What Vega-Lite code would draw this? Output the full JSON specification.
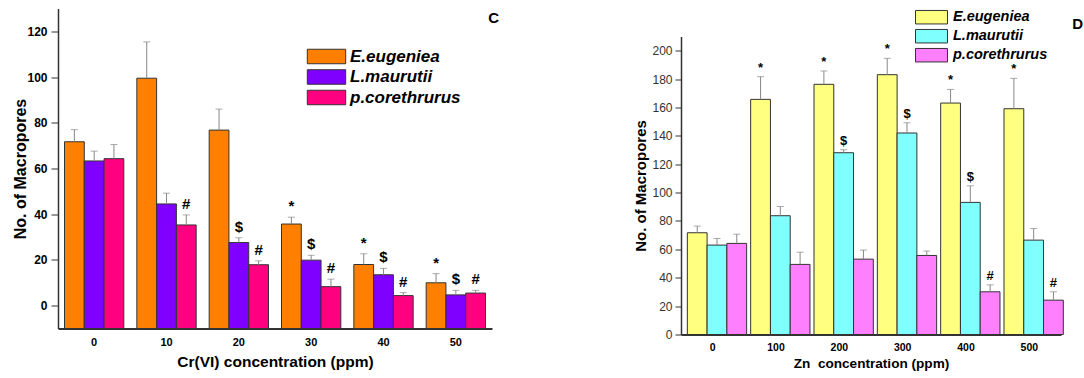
{
  "$schema": "https://vega.github.io/schema/vega-lite/v6.json",
  "padding": {"left": 12, "top": 8.5, "right": 0, "bottom": 0},
  "background": "white",
  "config": {
    "view": {"stroke": null},
    "font": "Liberation Sans",
    "axis": {"grid": false, "domainColor": "#333", "tickColor": "#333", "labelColor": "#000", "titleColor": "#000"}
  },
  "resolve": {"scale": {"fill": "independent", "y": "independent", "x": "independent"}, "legend": {"fill": "independent"}},
  "datasets": {
    "c": [
      {"conc": "0", "species": "E.eugeniea", "value": 71.7, "upper": 77, "sig": ""},
      {"conc": "0", "species": "L.maurutii", "value": 63.3, "upper": 67.6, "sig": ""},
      {"conc": "0", "species": "p.corethrurus", "value": 64.3, "upper": 70.5, "sig": ""},
      {"conc": "10", "species": "E.eugeniea", "value": 99.5, "upper": 115.4, "sig": ""},
      {"conc": "10", "species": "L.maurutii", "value": 44.5, "upper": 49.2, "sig": ""},
      {"conc": "10", "species": "p.corethrurus", "value": 35.3, "upper": 39.7, "sig": "#"},
      {"conc": "20", "species": "E.eugeniea", "value": 76.8, "upper": 86, "sig": ""},
      {"conc": "20", "species": "L.maurutii", "value": 27.6, "upper": 29.7, "sig": "$"},
      {"conc": "20", "species": "p.corethrurus", "value": 17.9, "upper": 19.6, "sig": "#"},
      {"conc": "30", "species": "E.eugeniea", "value": 35.7, "upper": 38.7, "sig": "*"},
      {"conc": "30", "species": "L.maurutii", "value": 19.9, "upper": 22.1, "sig": "$"},
      {"conc": "30", "species": "p.corethrurus", "value": 8.3, "upper": 11.6, "sig": "#"},
      {"conc": "40", "species": "E.eugeniea", "value": 18, "upper": 22.7, "sig": "*"},
      {"conc": "40", "species": "L.maurutii", "value": 13.5, "upper": 16.3, "sig": "$"},
      {"conc": "40", "species": "p.corethrurus", "value": 4.4, "upper": 5.7, "sig": "#"},
      {"conc": "50", "species": "E.eugeniea", "value": 10, "upper": 14, "sig": "*"},
      {"conc": "50", "species": "L.maurutii", "value": 4.7, "upper": 6.7, "sig": "$"},
      {"conc": "50", "species": "p.corethrurus", "value": 5.5, "upper": 6.7, "sig": "#"}
    ],
    "d": [
      {"conc": "0", "species": "E.eugeniea", "value": 71.7, "upper": 76.4, "sig": ""},
      {"conc": "0", "species": "L.maurutii", "value": 63, "upper": 67.7, "sig": ""},
      {"conc": "0", "species": "p.corethrurus", "value": 64.2, "upper": 70.7, "sig": ""},
      {"conc": "100", "species": "E.eugeniea", "value": 165.7, "upper": 181.7, "sig": "*"},
      {"conc": "100", "species": "L.maurutii", "value": 83.7, "upper": 90.2, "sig": ""},
      {"conc": "100", "species": "p.corethrurus", "value": 49.4, "upper": 58, "sig": ""},
      {"conc": "200", "species": "E.eugeniea", "value": 176.3, "upper": 185.7, "sig": "*"},
      {"conc": "200", "species": "L.maurutii", "value": 128.1, "upper": 130.2, "sig": "$"},
      {"conc": "200", "species": "p.corethrurus", "value": 53.1, "upper": 59.5, "sig": ""},
      {"conc": "300", "species": "E.eugeniea", "value": 183.1, "upper": 194.6, "sig": "*"},
      {"conc": "300", "species": "L.maurutii", "value": 142, "upper": 149.2, "sig": "$"},
      {"conc": "300", "species": "p.corethrurus", "value": 55.7, "upper": 58.8, "sig": ""},
      {"conc": "400", "species": "E.eugeniea", "value": 163.1, "upper": 172.7, "sig": "*"},
      {"conc": "400", "species": "L.maurutii", "value": 93.1, "upper": 104.8, "sig": "$"},
      {"conc": "400", "species": "p.corethrurus", "value": 30.1, "upper": 35, "sig": "#"},
      {"conc": "500", "species": "E.eugeniea", "value": 159.1, "upper": 180.5, "sig": "*"},
      {"conc": "500", "species": "L.maurutii", "value": 66.5, "upper": 74.7, "sig": ""},
      {"conc": "500", "species": "p.corethrurus", "value": 24.2, "upper": 30.1, "sig": "#"}
    ]
  },
  "bounds": "flush",
  "spacing": 189,
  "hconcat": [
    {
      "width": 434,
      "height": 320,
      "data": {"name": "c"},
      "title": {"text": "C", "anchor": "end", "frame": "group", "orient": "top", "offset": -17, "dx": 7, "fontSize": 15, "fontWeight": "bold", "color": "#000"},
      "encoding": {
        "x": {"field": "conc", "type": "nominal", "sort": ["0", "10", "20", "30", "40", "50"],
          "scale": {"paddingInner": 0.18, "paddingOuter": 0.09},
          "axis": {"title": "Cr(VI) concentration (ppm)", "labelAngle": 0, "ticks": false, "labelPadding": 8, "labelFontSize": 11, "labelFontWeight": "bold", "domainWidth": 2, "titleFontSize": 15.5, "titleFontWeight": "bold", "titlePadding": 7}},
        "xOffset": {"field": "species", "type": "nominal", "sort": ["E.eugeniea", "L.maurutii", "p.corethrurus"]}
      },
      "layer": [
        {
          "mark": {"type": "bar", "stroke": "#333", "strokeWidth": 1},
          "encoding": {
            "y": {"field": "value", "type": "quantitative", "scale": {"domain": [-10, 130], "nice": false},
              "axis": {"values": [0, 20, 40, 60, 80, 100, 120], "title": "No. of Macropores", "tickSize": 7, "labelPadding": 4, "labelFontSize": 12, "labelFontWeight": "bold", "labelOverlap": false, "domainWidth": 1.5, "titleFontSize": 16, "titleFontWeight": "bold", "titlePadding": -2}},
            "y2": {"datum": -10},
            "fill": {"field": "species", "type": "nominal",
              "scale": {"domain": ["E.eugeniea", "L.maurutii", "p.corethrurus"], "range": ["#FF8000", "#8000FF", "#FF0080"]},
              "legend": {"orient": "none", "legendX": 260, "legendY": 39.5, "title": null, "padding": 0,
                "symbolType": "M-2.65,-1H2.65V1H-2.65Z", "symbolSize": 210, "symbolStrokeColor": "#333", "symbolStrokeWidth": 1, "symbolOpacity": 1,
                "labelFontSize": 17, "labelFontStyle": "italic", "labelFontWeight": "bold", "labelColor": "#000", "labelOffset": 15, "rowPadding": 1.5}}
          }
        },
        {
          "mark": {"type": "rule", "color": "#888", "strokeWidth": 1},
          "encoding": {"y": {"field": "value", "type": "quantitative", "axis": {"values": [0, 20, 40, 60, 80, 100, 120]}}, "y2": {"field": "upper"}}
        },
        {
          "mark": {"type": "tick", "color": "#888", "thickness": 1, "size": 7},
          "encoding": {"y": {"field": "upper", "type": "quantitative", "axis": {"values": [0, 20, 40, 60, 80, 100, 120]}}}
        },
        {
          "mark": {"type": "text", "baseline": "bottom", "dy": -3, "fontSize": 15, "fontWeight": "bold", "color": "#000"},
          "encoding": {"y": {"field": "upper", "type": "quantitative", "axis": {"values": [0, 20, 40, 60, 80, 100, 120]}}, "text": {"field": "sig"}}
        }
      ]
    },
    {
      "bounds": "flush",
      "spacing": 0,
      "resolve": {"scale": {"fill": "independent"}, "legend": {"fill": "independent"}},
      "vconcat": [
        {"width": 380, "height": 28, "data": {"values": []}, "mark": "point",
          "title": {"text": "D", "anchor": "end", "frame": "group", "orient": "top", "offset": -23, "dx": 22, "fontSize": 15, "fontWeight": "bold", "color": "#000"}},
        {
          "width": 380,
          "height": 298,
          "data": {"name": "d"},
          "encoding": {
            "x": {"field": "conc", "type": "nominal", "sort": ["0", "100", "200", "300", "400", "500"],
              "scale": {"paddingInner": 0.2, "paddingOuter": 0.1},
              "axis": {"title": "Zn\u00a0 concentration (ppm)", "labelAngle": 0, "ticks": false, "labelPadding": 8, "labelFontSize": 10.5, "labelFontWeight": "bold", "domainWidth": 2, "titleFontSize": 13.6, "titleFontWeight": "bold", "titlePadding": 3}},
            "xOffset": {"field": "species", "type": "nominal", "sort": ["E.eugeniea", "L.maurutii", "p.corethrurus"]}
          },
          "layer": [
            {
              "mark": {"type": "bar", "stroke": "#333", "strokeWidth": 1},
              "encoding": {
                "y": {"field": "value", "type": "quantitative", "scale": {"domain": [0, 210], "nice": false},
                  "axis": {"values": [0, 20, 40, 60, 80, 100, 120, 140, 160, 180, 200], "tickCount": 11, "title": "No. of Macropores", "tickSize": 6, "labelPadding": 3, "labelFontSize": 12, "labelColor": "#333", "labelOverlap": false, "domainWidth": 1.5, "titleFontSize": 15, "titleFontWeight": "bold", "titlePadding": 3}},
                "fill": {"field": "species", "type": "nominal",
                  "scale": {"domain": ["E.eugeniea", "L.maurutii", "p.corethrurus"], "range": ["#FFFF80", "#80FFFF", "#FF80FF"]},
                  "legend": {"orient": "none", "legendX": 243, "legendY": -26.8, "title": null, "padding": 0,
                    "symbolType": "M-2.37,-1H2.37V1H-2.37Z", "symbolSize": 182, "symbolStrokeColor": "#333", "symbolStrokeWidth": 1, "symbolOpacity": 1,
                    "labelFontSize": 14.5, "labelFontStyle": "italic", "labelFontWeight": "bold", "labelColor": "#000", "labelOffset": 14, "rowPadding": 0}}
              }
            },
            {
              "mark": {"type": "rule", "color": "#888", "strokeWidth": 1},
              "encoding": {"y": {"field": "value", "type": "quantitative", "axis": {"values": [0, 20, 40, 60, 80, 100, 120, 140, 160, 180, 200], "tickCount": 11}}, "y2": {"field": "upper"}}
            },
            {
              "mark": {"type": "tick", "color": "#888", "thickness": 1, "size": 7},
              "encoding": {"y": {"field": "upper", "type": "quantitative", "axis": {"values": [0, 20, 40, 60, 80, 100, 120, 140, 160, 180, 200], "tickCount": 11}}}
            },
            {
              "mark": {"type": "text", "baseline": "bottom", "dy": -2, "fontSize": 13, "fontWeight": "bold", "color": "#000"},
              "encoding": {"y": {"field": "upper", "type": "quantitative", "axis": {"values": [0, 20, 40, 60, 80, 100, 120, 140, 160, 180, 200], "tickCount": 11}}, "text": {"field": "sig"}}
            }
          ]
        }
      ]
    }
  ]
}
